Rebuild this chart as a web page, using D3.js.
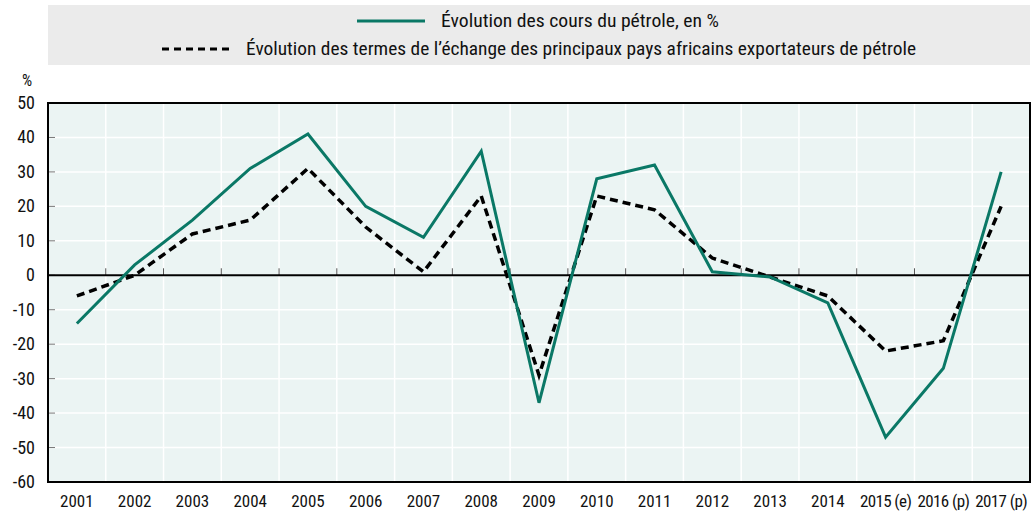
<!DOCTYPE html>
<html>
<head>
<meta charset="utf-8">
<script src="https://cdn.jsdelivr.net/npm/d3@7"></script>
<style>
  body { margin: 0; background: #fff; }
  text { font-family: "Liberation Sans Narrow", "Roboto Condensed", "DejaVu Sans Condensed", sans-serif; fill: #111; }
</style>
</head>
<body>
<div id="chart"></div>
<script>
// chart size and plot margins
const width = 1036;
const height = 515;
const margin = { top: 103, right: 6, bottom: 33, left: 48 };

// data
const years = ["2001", "2002", "2003", "2004", "2005", "2006", "2007", "2008", "2009",
  "2010", "2011", "2012", "2013", "2014", "2015 (e)", "2016 (p)", "2017 (p)"];
const oilPrice = [-14, 3, 16, 31, 41, 20, 11, 36, -37, 28, 32, 1, -0.5, -8, -47, -27, 30];
const termsOfTrade = [-6, 0, 12, 16, 31, 14, 1, 23, -29, 23, 19, 5, -0.5, -6, -22, -19, 20];
const yTicks = [50, 40, 30, 20, 10, 0, -10, -20, -30, -40, -50, -60];
const legendLabels = ["Évolution des cours du pétrole, en %",
  "Évolution des termes de l’échange des principaux pays africains exportateurs de pétrole"];

const green = "#0a7866";

const svg = d3.select("#chart")
  .append("svg")
  .attr("width", width)
  .attr("height", height);

const x = d3.scaleBand()
  .domain(years)
  .range([margin.left, width - margin.right]);

const y = d3.scaleLinear()
  .domain([-60, 50])
  .range([height - margin.bottom, margin.top]);

// legend box
svg.append("rect")
  .attr("x", margin.left)
  .attr("y", 5)
  .attr("width", width - margin.right - margin.left)
  .attr("height", 60)
  .attr("fill", "#ebebeb");

const legend = [
  { label: legendLabels[0], x0: 357, y: 21, dash: null, color: green, len: 278 },
  { label: legendLabels[1], x0: 162, y: 49, dash: "7,5", color: "#000", len: 670 }
];
legend.forEach(l => {
  svg.append("line")
    .attr("x1", l.x0).attr("x2", l.x0 + 68)
    .attr("y1", l.y).attr("y2", l.y)
    .attr("stroke", l.color)
    .attr("stroke-width", 3)
    .attr("stroke-dasharray", l.dash);
  svg.append("text")
    .attr("x", l.x0 + 84)
    .attr("y", l.y + 6)
    .attr("textLength", l.len)
    .attr("lengthAdjust", "spacingAndGlyphs")
    .style("font-size", "18px")
    .text(l.label);
});

// plot background
svg.append("rect")
  .attr("x", margin.left)
  .attr("y", margin.top)
  .attr("width", width - margin.right - margin.left)
  .attr("height", height - margin.bottom - margin.top)
  .attr("fill", "#ebf4f3");

// horizontal gridlines
svg.append("g")
  .selectAll("line")
  .data(yTicks)
  .join("line")
  .attr("x1", margin.left).attr("x2", width - margin.right)
  .attr("y1", d => y(d)).attr("y2", d => y(d))
  .attr("stroke", "#fff")
  .attr("stroke-width", 1.5);

// vertical gridlines at band boundaries
const bounds = years.slice(1).map(d => x(d));
svg.append("g")
  .selectAll("line")
  .data(bounds)
  .join("line")
  .attr("x1", d => d).attr("x2", d => d)
  .attr("y1", margin.top).attr("y2", height - margin.bottom)
  .attr("stroke", "#fff")
  .attr("stroke-width", 1.5);

// y axis: small inner ticks + labels
svg.append("g")
  .selectAll("line")
  .data(yTicks)
  .join("line")
  .attr("x1", margin.left).attr("x2", margin.left + 7)
  .attr("y1", d => y(d)).attr("y2", d => y(d))
  .attr("stroke", "#777")
  .attr("stroke-width", 1);

svg.append("g")
  .selectAll("text")
  .data(yTicks)
  .join("text")
  .attr("x", 35)
  .attr("y", d => y(d) + 6)
  .attr("text-anchor", "end")
  .style("font-size", "18px")
  .text(d => d);

svg.append("text")
  .attr("x", 27)
  .attr("y", 86)
  .attr("text-anchor", "middle")
  .style("font-size", "16px")
  .text("%");

// zero line with small ticks
svg.append("g")
  .selectAll("line")
  .data(bounds)
  .join("line")
  .attr("x1", d => d).attr("x2", d => d)
  .attr("y1", y(0)).attr("y2", y(0) - 7)
  .attr("stroke", "#555")
  .attr("stroke-width", 1);

svg.append("line")
  .attr("x1", margin.left).attr("x2", width - margin.right)
  .attr("y1", y(0)).attr("y2", y(0))
  .attr("stroke", "#000")
  .attr("stroke-width", 2);

// x labels
svg.append("g")
  .selectAll("text")
  .data(years)
  .join("text")
  .attr("x", d => x(d) + x.bandwidth() / 2)
  .attr("y", 507)
  .attr("text-anchor", "middle")
  .style("font-size", "17px")
  .style("letter-spacing", d => d.length > 4 ? "-0.6px" : null)
  .text(d => d);

// series lines
const line = d3.line()
  .x((d, i) => x(years[i]) + x.bandwidth() / 2)
  .y(d => y(d));

svg.append("path")
  .datum(termsOfTrade)
  .attr("fill", "none")
  .attr("stroke", "#000")
  .attr("stroke-width", 3.5)
  .attr("stroke-dasharray", "8,5")
  .attr("d", line);

svg.append("path")
  .datum(oilPrice)
  .attr("fill", "none")
  .attr("stroke", green)
  .attr("stroke-width", 3)
  .attr("d", line);

// frame
svg.append("rect")
  .attr("x", margin.left)
  .attr("y", margin.top)
  .attr("width", width - margin.right - margin.left)
  .attr("height", height - margin.bottom - margin.top)
  .attr("fill", "none")
  .attr("stroke", "#000")
  .attr("stroke-width", 2);
</script>
</body>
</html>
